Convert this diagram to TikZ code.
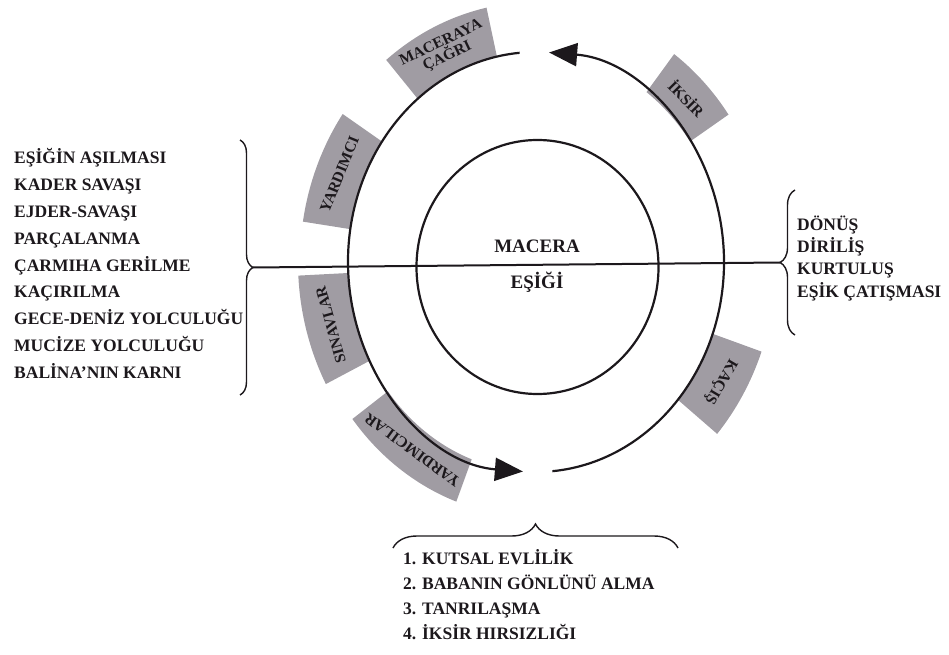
\documentclass[tikz,border=0pt]{standalone}
\usepackage{fontspec}
\setmainfont{Liberation Serif}
\usetikzlibrary{arrows.meta,calc,decorations.pathreplacing}
\definecolor{boxgray}{RGB}{160,156,163}
\definecolor{inkblack}{RGB}{28,24,28}

% gray stage box on the outer ring: name, start angle, end angle, width, label
\newcommand{\stagebox}[5]{%
  \pgfmathsetmacro\tmid{(#2+#3)/2}%
  \pgfmathsetmacro\rxo{188+#4}%
  \pgfmathsetmacro\ryo{210+#4}%
  \pgfmathsetmacro\rxm{188+#4/2}%
  \pgfmathsetmacro\rym{210+#4/2}%
  \fill[boxgray] ($(C)+(#2:188pt and 210pt)$)
    arc[start angle=#2, end angle=#3, x radius=188pt, y radius=210pt]
    -- ($(C)+(#3:\rxo pt and \ryo pt)$)
    arc[start angle=#3, end angle=#2, x radius=\rxo pt, y radius=\ryo pt] -- cycle;
  \node[stage label, rotate=\tmid-90] (#1) at ($(C)+(\tmid:\rxm pt and \rym pt)$) {#5};
}

\begin{document}
\begin{tikzpicture}[x=1pt, y=1pt,
    ring/.style={line width=2.2pt, draw=inkblack},
    cycle arrow/.style={ring, -{Triangle[length=28pt,width=23pt]}},
    list brace/.style={line width=1.4pt, draw=inkblack, decorate},
    list item/.style={anchor=west, inner sep=0pt, text height=12pt, text depth=0pt,
      text=inkblack, font=\fontsize{17.5}{20}\selectfont\bfseries},
    center label/.style={inner sep=0pt, text height=12.5pt, text depth=0pt,
      text=inkblack, font=\fontsize{19}{20}\selectfont\bfseries},
    stage label/.style={inner sep=0pt, align=center, text=inkblack,
      font=\fontsize{15.5}{15}\selectfont\bfseries}]

  \useasboundingbox (0,0) rectangle (949,654);

  % Centre of the outer ring
  \coordinate (C) at (536,392);

  % Stage boxes
  \stagebox{call}{102}{129}{50}{MACERAYA\\ÇAĞRI}
  \stagebox{elixir}{35}{54}{47}{İKSİR}
  \stagebox{helper}{145}{171}{48}{YARDIMCI}
  \stagebox{tests}{183}{208}{50}{SINAVLAR}
  \stagebox{helpers}{218}{250}{45}{YARDIMCILAR}
  \stagebox{flight}{-41}{-20}{52}{KAÇIŞ}

  % Outer cycle, two arcs with arrows
  \coordinate (rstart) at ($(C)+(-85:188pt and 210pt)$);
  \coordinate (lstart) at ($(C)+(95:188pt and 210pt)$);
  \draw[cycle arrow] (rstart) arc[start angle=-85, end angle=86, x radius=188pt, y radius=210pt];
  \draw[cycle arrow] (lstart) arc[start angle=95, end angle=266, x radius=188pt, y radius=210pt];

  % Inner ring
  \draw[ring] (537.5,387) ellipse [x radius=121pt, y radius=127pt];

  % Braces and threshold line
  \draw[list brace, decoration={brace, amplitude=13pt}] (240,514) -- (240,259);
  \draw[list brace, decoration={brace, amplitude=15pt}] (795,319) -- (795,464);
  \draw[list brace, decoration={brace, amplitude=24pt}] (393,106) -- (678,106);
  \coordinate (ltip) at (253,386.5);
  \coordinate (rtip) at (780,391.5);
  \draw[ring, line width=2pt] (ltip) -- (rtip);

  \node[center label] (adventure) at (537,408) {MACERA};
  \node[center label] (threshold) at (537,372) {EŞİĞİ};

  % Lists
  \foreach \txt [count=\i] in {EŞİĞİN AŞILMASI, KADER SAVAŞI, EJDER-SAVAŞI,
      PARÇALANMA, ÇARMIHA GERİLME, KAÇIRILMA, GECE-DENİZ YOLCULUĞU,
      MUCİZE YOLCULUĞU, BALİNA'NIN KARNI}
    \node[list item] (left\i) at (14,{496-26.8*(\i-1)}) {\txt};

  \foreach \txt [count=\i] in {DÖNÜŞ, DİRİLİŞ, KURTULUŞ, EŞİK ÇATIŞMASI}
    \node[list item] (right\i) at (797,{429-22*(\i-1)}) {\txt};

  \foreach \txt [count=\i] in {1. KUTSAL EVLİLİK, 2. BABANIN GÖNLÜNÜ ALMA,
      3. TANRILAŞMA, 4. İKSİR HIRSIZLIĞI}
    \node[list item] (bottom\i) at (403,{96-25*(\i-1)}) {\txt};

\end{tikzpicture}
\end{document}
